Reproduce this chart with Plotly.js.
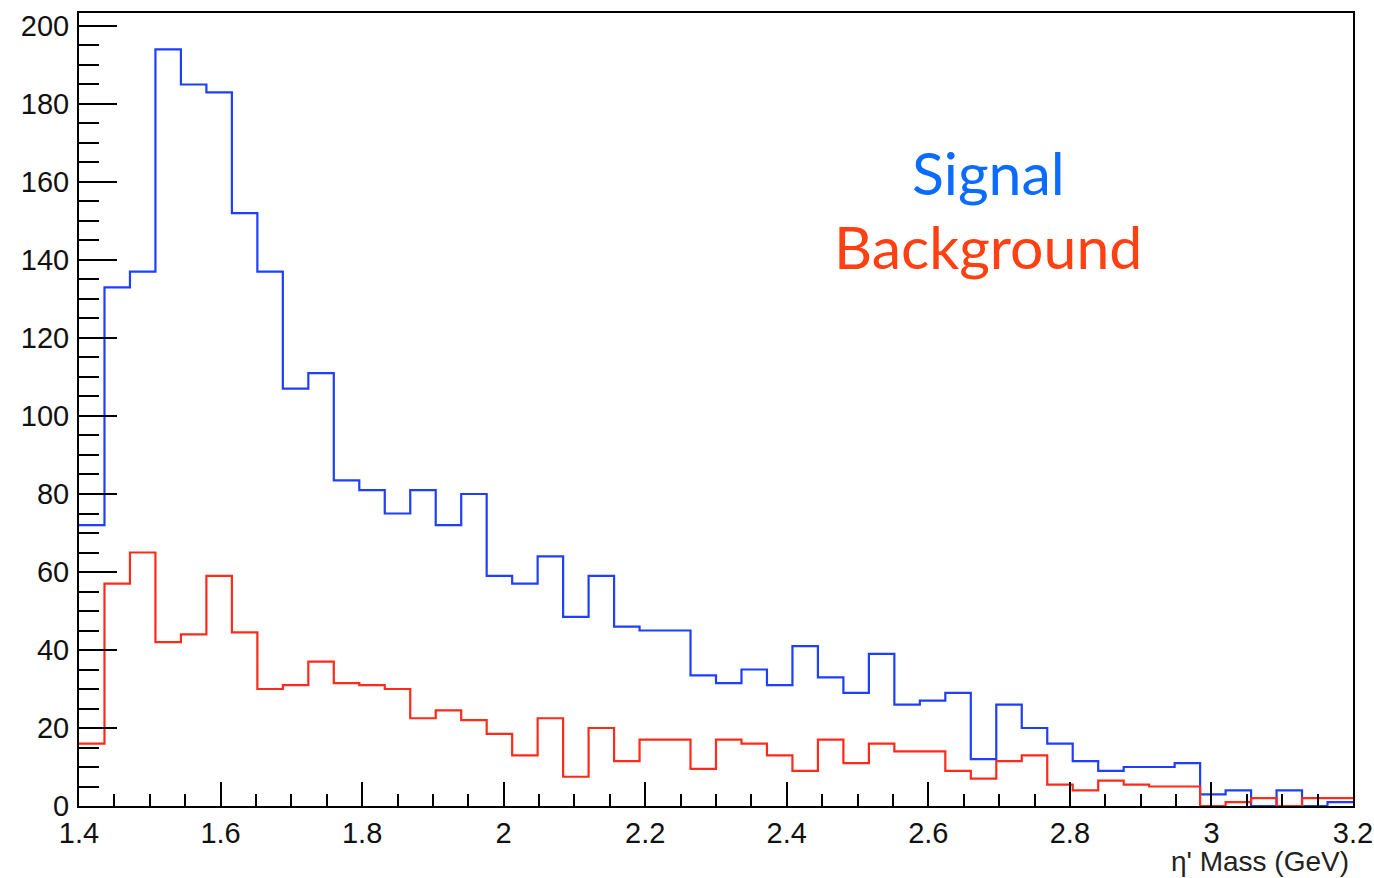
<!DOCTYPE html>
<html>
<head>
<meta charset="utf-8">
<script src="https://cdn.plot.ly/plotly-3.0.1.min.js"></script>
<style>
html,body{margin:0;padding:0;background:#fff;}
#chart{width:1374px;height:878px;}
</style>
</head>
<body>
<div id="chart"></div>
<script>
// Histogram binning (eta' mass, GeV)
const xMin = 1.4;
const xMax = 3.2;
const nBins = 50;

// Bin contents
const signalCounts = [
  72, 133, 137, 194, 185, 183, 152, 137, 107, 111,
  83.5, 81, 75, 81, 72, 80, 59, 57, 64, 48.5,
  59, 46, 45, 45, 33.5, 31.5, 35, 31, 41, 33,
  29, 39, 26, 27, 29, 12, 26, 20, 16, 11.5,
  9, 10, 10, 11, 3, 4, 0, 4, 0, 1
];
const backgroundCounts = [
  16, 57, 65, 42, 44, 59, 44.5, 30, 31, 37,
  31.5, 31, 30, 22.5, 24.5, 22, 18.5, 13, 22.5, 7.5,
  20, 11.5, 17, 17, 9.5, 17, 16, 13, 9, 17,
  11, 16, 14, 14, 9, 7, 11.5, 13, 5.5, 4,
  6.5, 5.5, 5, 5, 0, 1, 2, 0, 2, 2
];

const yTickVals = [0, 20, 40, 60, 80, 100, 120, 140, 160, 180, 200];
const xTickVals = [1.4, 1.6, 1.8, 2, 2.2, 2.4, 2.6, 2.8, 3, 3.2];
const xTickText = ["1.4", "1.6", "1.8", "2", "2.2", "2.4", "2.6", "2.8", "3", "3.2"];
const xTitle = "η' Mass (GeV)";
const legendLabels = ["Signal", "Background"];

const binWidth = (xMax - xMin) / nBins;
function stepTrace(counts, color, name) {
  const xs = [], ys = [];
  for (let i = 0; i < counts.length; i++) {
    xs.push(xMin + i * binWidth);
    ys.push(counts[i]);
  }
  xs.push(xMax);
  ys.push(counts[counts.length - 1]);
  return {
    x: xs, y: ys, type: 'scatter', mode: 'lines', name: name,
    line: {shape: 'hv', color: color, width: 2.2},
    hoverinfo: 'skip', cliponaxis: true
  };
}

const data = [
  stepTrace(signalCounts, '#1f3fff', legendLabels[0]),
  stepTrace(backgroundCounts, '#ff2a1a', legendLabels[1])
];

const tickFont = {family: 'Liberation Sans, Arial, sans-serif', size: 29, color: '#111'};

const layout = {
  width: 1374, height: 878,
  margin: {l: 79, r: 21, t: 13, b: 72},
  paper_bgcolor: '#ffffff', plot_bgcolor: '#ffffff',
  showlegend: false,
  xaxis: {
    range: [xMin, xMax], showgrid: false, zeroline: false,
    tickvals: xTickVals, ticktext: xTickText,
    ticks: 'inside', ticklen: 24, tickwidth: 2, tickcolor: '#000',
    minor: {dtick: 0.05, tick0: 1.4, ticks: 'inside', ticklen: 12, tickwidth: 2, tickcolor: '#000', showgrid: false},
    showline: true, linecolor: '#000', linewidth: 2, mirror: true,
    tickfont: tickFont, ticklabelstandoff: 0
  },
  yaxis: {
    range: [0, 203.33], showgrid: false, zeroline: false,
    tickvals: yTickVals,
    ticks: 'inside', ticklen: 38, tickwidth: 2, tickcolor: '#000',
    minor: {dtick: 5, tick0: 0, ticks: 'inside', ticklen: 20, tickwidth: 2, tickcolor: '#000', showgrid: false},
    showline: true, linecolor: '#000', linewidth: 2, mirror: true,
    tickfont: tickFont, ticklabelstandoff: 2
  },
  annotations: [
    {xref: 'paper', yref: 'paper', x: 1, y: 0, xanchor: 'right', yanchor: 'middle',
     xshift: -3, yshift: -55, borderpad: 0, text: xTitle, showarrow: false,
     font: {family: 'Liberation Sans, Arial, sans-serif', size: 28, color: '#222'}},
    {xref: 'x', yref: 'y', x: 2.685, y: 162.5, xanchor: 'center', yanchor: 'middle',
     text: legendLabels[0], showarrow: false,
     font: {family: 'Lato, sans-serif', size: 59, color: '#0a6cff'}},
    {xref: 'x', yref: 'y', x: 2.685, y: 143.5, xanchor: 'center', yanchor: 'middle',
     text: legendLabels[1], showarrow: false,
     font: {family: 'Lato, sans-serif', size: 59, color: '#ff4013'}}
  ]
};

Plotly.newPlot('chart', data, layout, {displayModeBar: false, staticPlot: true});
</script>
</body>
</html>
